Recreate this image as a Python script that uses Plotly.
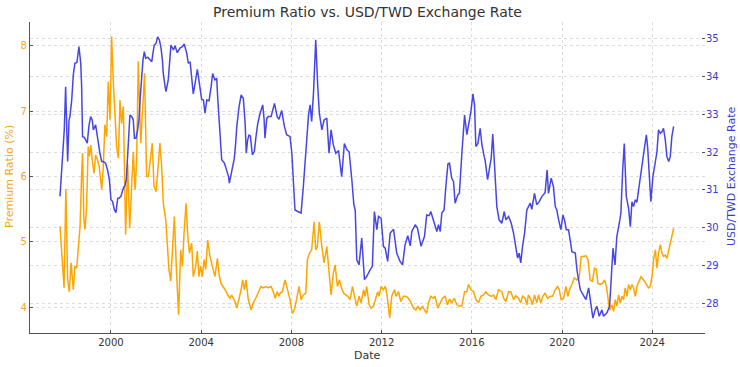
import plotly.graph_objects as go

# ---- Data (decimal years) ----
usd_twd_years = [
    1997.74, 1997.84, 1997.93, 1997.99, 1998.08, 1998.14, 1998.18, 1998.26, 1998.33, 1998.40,
    1998.49, 1998.58, 1998.66, 1998.70, 1998.74, 1998.82, 1998.88, 1998.95, 1999.02, 1999.10,
    1999.17, 1999.22, 1999.32, 1999.41, 1999.51, 1999.59, 1999.66, 1999.76, 1999.85, 1999.93,
    2000.00, 2000.07, 2000.15, 2000.22, 2000.30, 2000.36, 2000.44, 2000.55, 2000.62, 2000.68,
    2000.74, 2000.80, 2000.84, 2000.92, 2000.99, 2001.04, 2001.11, 2001.18, 2001.24, 2001.30,
    2001.36, 2001.42, 2001.48, 2001.54, 2001.63, 2001.73, 2001.81, 2001.86, 2001.92, 2002.00,
    2002.07, 2002.15, 2002.22, 2002.28, 2002.32, 2002.40, 2002.44, 2002.54, 2002.66, 2002.77,
    2002.84, 2002.94, 2003.06, 2003.17, 2003.25, 2003.36, 2003.43, 2003.51, 2003.58, 2003.65,
    2003.73, 2003.83, 2003.92, 2004.02, 2004.10, 2004.17, 2004.25, 2004.35, 2004.44, 2004.51,
    2004.61, 2004.69, 2004.73, 2004.79, 2004.85, 2004.91, 2005.03, 2005.13, 2005.21, 2005.25,
    2005.35, 2005.47, 2005.53, 2005.58, 2005.68, 2005.77, 2005.87, 2005.95, 2006.00, 2006.06,
    2006.12, 2006.18, 2006.27, 2006.36, 2006.43, 2006.51, 2006.61, 2006.73, 2006.79, 2006.83,
    2006.91, 2006.98, 2007.10, 2007.17, 2007.25, 2007.37, 2007.45, 2007.57, 2007.69, 2007.79,
    2007.94, 2008.02, 2008.09, 2008.16, 2008.28, 2008.43, 2008.53, 2008.64, 2008.76, 2008.83,
    2008.90, 2008.98, 2009.08, 2009.17, 2009.24, 2009.35, 2009.45, 2009.57, 2009.67, 2009.76,
    2009.86, 2009.97, 2010.09, 2010.23, 2010.35, 2010.46, 2010.56, 2010.68, 2010.77, 2010.83,
    2010.90, 2011.00, 2011.12, 2011.24, 2011.34, 2011.49, 2011.59, 2011.68, 2011.79, 2011.86,
    2011.98, 2012.08, 2012.16, 2012.27, 2012.38, 2012.53, 2012.67, 2012.82, 2012.93, 2013.04,
    2013.16, 2013.27, 2013.34, 2013.49, 2013.59, 2013.75, 2013.90, 2014.00, 2014.11, 2014.18,
    2014.30, 2014.45, 2014.52, 2014.60, 2014.67, 2014.77, 2014.85, 2014.94, 2015.01, 2015.11,
    2015.19, 2015.26, 2015.38, 2015.45, 2015.56, 2015.68, 2015.78, 2015.85, 2015.96, 2016.05,
    2016.12, 2016.18, 2016.27, 2016.37, 2016.45, 2016.55, 2016.59, 2016.70, 2016.81, 2016.86,
    2016.93, 2017.01, 2017.11, 2017.21, 2017.33, 2017.44, 2017.51, 2017.63, 2017.75, 2017.85,
    2017.95, 2018.03, 2018.10, 2018.17, 2018.25, 2018.34, 2018.44, 2018.59, 2018.66, 2018.78,
    2018.88, 2018.99, 2019.11, 2019.25, 2019.34, 2019.40, 2019.52, 2019.62, 2019.70, 2019.77,
    2019.85, 2019.95, 2020.04, 2020.11, 2020.19, 2020.29, 2020.36, 2020.44, 2020.59, 2020.66,
    2020.81, 2020.95, 2021.06, 2021.18, 2021.28, 2021.37, 2021.47, 2021.55, 2021.65, 2021.77,
    2021.84, 2021.99, 2022.11, 2022.18, 2022.26, 2022.35, 2022.43, 2022.54, 2022.61, 2022.69,
    2022.76, 2022.85, 2022.95, 2023.03, 2023.10, 2023.17, 2023.25, 2023.32, 2023.44, 2023.54,
    2023.62, 2023.74, 2023.80, 2023.88, 2023.94, 2024.03, 2024.14, 2024.21, 2024.28, 2024.36,
    2024.43, 2024.50, 2024.58, 2024.65, 2024.73, 2024.80, 2024.87, 2024.95,
]
usd_twd_rate = [
    30.83, 31.80, 32.59, 33.73, 31.75, 32.85, 32.94, 33.38, 34.04, 34.35,
    34.37, 34.79, 34.35, 33.73, 32.41, 32.39, 32.32, 32.24, 32.68, 32.94,
    32.85, 32.59, 32.72, 32.32, 31.97, 31.75, 31.75, 31.71, 31.53, 31.27,
    30.74, 30.70, 30.48, 30.40, 30.78, 30.78, 30.83, 31.05, 31.12, 31.27,
    31.97, 32.59, 32.98, 32.94, 32.85, 32.37, 32.37, 32.59, 32.85, 33.47,
    34.08, 34.44, 34.66, 34.48, 34.51, 34.45, 34.39, 34.61, 34.83, 34.88,
    35.05, 34.96, 34.75, 34.44, 34.08, 33.73, 33.60, 33.91, 34.83, 34.70,
    34.81, 34.63, 34.75, 34.79, 34.86, 34.61, 34.35, 34.39, 34.00, 33.54,
    33.82, 34.19, 33.82, 33.40, 33.38, 33.03, 33.38, 33.36, 33.73, 34.08,
    33.91, 33.95, 33.47, 32.85, 32.24, 31.80, 31.71, 31.53, 31.36, 31.18,
    31.49, 31.84, 32.24, 32.68, 33.20, 33.51, 33.42, 32.76, 31.97, 32.32,
    32.45, 32.43, 31.93, 32.02, 32.41, 32.76, 33.02, 33.25, 32.87, 32.37,
    32.90, 32.94, 32.94, 33.12, 33.29, 32.94, 32.87, 33.10, 32.68, 32.46,
    32.41, 31.97, 31.00, 30.47, 30.43, 30.39, 31.09, 31.97, 32.98, 33.25,
    32.81, 33.56, 34.97, 33.73, 33.03, 32.59, 32.85, 32.90, 31.97, 32.59,
    32.19, 31.97, 32.04, 31.35, 32.23, 32.06, 32.01, 31.27, 30.61, 30.47,
    29.15, 29.02, 29.73, 28.63, 28.71, 28.89, 28.98, 30.43, 29.95, 30.30,
    30.25, 29.51, 29.46, 29.11, 29.86, 29.96, 29.33, 29.11, 29.02, 29.55,
    29.79, 29.52, 29.90, 30.08, 29.99, 29.51, 29.77, 30.34, 30.32, 30.43,
    30.17, 29.90, 30.08, 29.90, 30.39, 30.47, 31.09, 31.69, 31.71, 31.31,
    31.22, 30.65, 30.87, 30.91, 31.97, 32.98, 32.46, 32.68, 33.07, 33.54,
    33.25, 32.15, 32.23, 32.63, 32.19, 31.88, 31.79, 31.27, 31.71, 31.84,
    32.48, 31.71, 30.56, 30.21, 30.12, 30.43, 30.21, 30.30, 30.12, 29.86,
    29.51, 29.20, 29.33, 29.07, 29.51, 29.86, 30.47, 30.65, 30.49, 30.91,
    30.61, 30.69, 30.83, 30.93, 31.53, 30.91, 31.31, 31.09, 30.56, 30.47,
    30.21, 29.95, 30.34, 30.21, 29.95, 29.95, 29.68, 29.37, 29.33, 28.89,
    28.36, 28.19, 28.10, 28.41, 27.92, 27.61, 27.83, 27.92, 27.66, 27.83,
    27.66, 27.75, 27.92, 28.63, 29.46, 29.02, 29.77, 30.12, 30.39, 31.53,
    32.23, 30.83, 30.52, 30.03, 30.69, 30.56, 30.74, 30.67, 31.27, 31.62,
    31.97, 32.46, 32.10, 31.27, 30.69, 31.35, 31.80, 32.01, 32.59, 32.50,
    32.54, 32.63, 32.32, 31.88, 31.75, 31.88, 32.41, 32.68,
]

premium_years = [
    1997.74, 1997.81, 1997.92, 1998.00, 1998.08, 1998.15, 1998.23, 1998.33, 1998.40, 1998.48,
    1998.55, 1998.63, 1998.70, 1998.74, 1998.80, 1998.85, 1998.92, 1998.99, 1999.04, 1999.11,
    1999.17, 1999.25, 1999.32, 1999.41, 1999.48, 1999.59, 1999.66, 1999.73, 1999.81, 1999.88,
    1999.96, 2000.03, 2000.10, 2000.18, 2000.25, 2000.33, 2000.40, 2000.47, 2000.55, 2000.65,
    2000.74, 2000.83, 2000.92, 2000.99, 2001.07, 2001.14, 2001.21, 2001.32, 2001.49, 2001.58,
    2001.66, 2001.73, 2001.83, 2001.91, 2002.00, 2002.07, 2002.17, 2002.25, 2002.32, 2002.43,
    2002.51, 2002.57, 2002.65, 2002.72, 2002.81, 2002.91, 2003.00, 2003.09, 2003.17, 2003.24,
    2003.33, 2003.40, 2003.48, 2003.58, 2003.65, 2003.76, 2003.83, 2003.90, 2003.98, 2004.05,
    2004.13, 2004.20, 2004.29, 2004.39, 2004.50, 2004.61, 2004.72, 2004.79, 2004.87, 2004.98,
    2005.06, 2005.21, 2005.28, 2005.35, 2005.43, 2005.50, 2005.58, 2005.68, 2005.77, 2005.84,
    2005.92, 2005.99, 2006.09, 2006.21, 2006.31, 2006.42, 2006.54, 2006.65, 2006.76, 2006.86,
    2006.98, 2007.10, 2007.20, 2007.28, 2007.37, 2007.45, 2007.50, 2007.60, 2007.72, 2007.84,
    2007.94, 2008.04, 2008.13, 2008.24, 2008.34, 2008.43, 2008.53, 2008.64, 2008.71, 2008.80,
    2008.90, 2009.01, 2009.08, 2009.15, 2009.24, 2009.35, 2009.45, 2009.57, 2009.64, 2009.76,
    2009.86, 2009.94, 2010.04, 2010.13, 2010.20, 2010.31, 2010.41, 2010.50, 2010.60, 2010.71,
    2010.80, 2010.90, 2011.00, 2011.09, 2011.20, 2011.27, 2011.34, 2011.45, 2011.53, 2011.64,
    2011.74, 2011.83, 2011.89, 2011.98, 2012.08, 2012.16, 2012.23, 2012.30, 2012.36, 2012.45,
    2012.57, 2012.64, 2012.75, 2012.85, 2012.97, 2013.07, 2013.19, 2013.31, 2013.41, 2013.52,
    2013.61, 2013.71, 2013.81, 2013.90, 2014.00, 2014.08, 2014.18, 2014.30, 2014.37, 2014.49,
    2014.60, 2014.70, 2014.82, 2014.92, 2015.01, 2015.11, 2015.22, 2015.34, 2015.44, 2015.56,
    2015.68, 2015.78, 2015.85, 2015.97, 2016.08, 2016.18, 2016.30, 2016.40, 2016.52, 2016.62,
    2016.74, 2016.86, 2016.96, 2017.07, 2017.18, 2017.33, 2017.41, 2017.51, 2017.63, 2017.73,
    2017.85, 2017.95, 2018.07, 2018.17, 2018.25, 2018.37, 2018.44, 2018.51, 2018.62, 2018.69,
    2018.78, 2018.88, 2018.96, 2019.06, 2019.15, 2019.25, 2019.36, 2019.48, 2019.58, 2019.70,
    2019.80, 2019.88, 2019.96, 2020.07, 2020.17, 2020.26, 2020.36, 2020.44, 2020.54, 2020.66,
    2020.76, 2020.85, 2020.96, 2021.06, 2021.15, 2021.25, 2021.35, 2021.44, 2021.52, 2021.59,
    2021.69, 2021.80, 2021.89, 2021.98, 2022.11, 2022.21, 2022.29, 2022.36, 2022.43, 2022.51,
    2022.58, 2022.66, 2022.73, 2022.80, 2022.88, 2022.95, 2023.03, 2023.10, 2023.17, 2023.25,
    2023.32, 2023.40, 2023.50, 2023.62, 2023.74, 2023.84, 2023.91, 2023.99, 2024.06, 2024.14,
    2024.21, 2024.28, 2024.36, 2024.43, 2024.50, 2024.58, 2024.65, 2024.73, 2024.80, 2024.87,
    2024.95,
]
premium_ratio = [
    5.24, 4.93, 4.30, 5.81, 4.42, 4.24, 4.68, 4.27, 4.63, 4.60,
    4.88, 5.24, 6.05, 6.36, 5.34, 5.19, 5.54, 6.46, 6.31, 6.48,
    6.25, 6.05, 6.33, 6.25, 6.15, 5.80, 6.15, 6.79, 6.61, 7.45,
    6.87, 8.14, 7.48, 6.92, 6.46, 6.28, 7.17, 6.81, 7.07, 5.11,
    6.20, 5.21, 6.00, 6.38, 5.80, 6.25, 7.76, 6.51, 7.58, 6.00,
    6.00, 6.25, 6.51, 5.85, 5.77, 6.05, 6.51, 6.15, 5.59, 5.34,
    4.93, 4.58, 4.40, 4.93, 5.39, 4.52, 3.89, 4.88, 4.63, 5.13,
    5.59, 5.13, 4.83, 4.98, 4.47, 4.63, 4.86, 4.47, 4.63, 4.47,
    4.73, 4.58, 5.03, 4.78, 4.63, 4.47, 4.75, 4.52, 4.37, 4.32,
    4.27, 4.17, 4.14, 4.19, 4.14, 4.09, 3.99, 4.12, 4.27, 4.42,
    4.27, 4.42, 4.12, 3.96, 4.07, 4.14, 4.24, 4.32, 4.30, 4.32,
    4.30, 4.32, 4.24, 4.14, 4.24, 4.17, 4.22, 4.24, 4.42, 4.27,
    4.12, 3.91, 3.96, 4.14, 4.32, 4.12, 4.19, 4.22, 4.73, 4.83,
    4.88, 5.31, 4.88, 4.93, 5.31, 4.93, 4.68, 4.93, 4.63, 4.19,
    4.52, 4.65, 4.32, 4.42, 4.32, 4.22, 4.19, 4.17, 4.12, 4.32,
    4.17, 4.02, 4.17, 4.07, 4.27, 4.17, 4.32, 4.04, 3.99, 4.02,
    4.14, 4.24, 4.17, 4.32, 4.27, 4.32, 4.22, 4.02, 3.84, 4.17,
    4.27, 4.17, 4.24, 4.09, 4.17, 4.17, 4.14, 4.07, 3.99, 3.96,
    4.02, 3.96, 4.02, 3.96, 3.91, 4.07, 4.17, 4.14, 4.17, 3.99,
    4.07, 4.14, 4.17, 4.04, 4.13, 4.07, 4.14, 4.04, 4.02, 4.02,
    4.24, 4.24, 4.35, 4.27, 4.24, 4.12, 4.07, 4.17, 4.19, 4.24,
    4.19, 4.17, 4.19, 4.12, 4.27, 4.24, 4.14, 4.09, 4.24, 4.24,
    4.12, 4.18, 4.14, 4.07, 4.17, 4.14, 4.04, 4.19, 4.12, 4.04,
    4.19, 4.07, 4.19, 4.07, 4.17, 4.22, 4.14, 4.17, 4.17, 4.27,
    4.32, 4.27, 4.12, 4.14, 4.32, 4.17, 4.30, 4.35, 4.45, 4.42,
    4.45, 4.78, 4.78, 4.79, 4.73, 4.42, 4.40, 4.60, 4.58, 4.37,
    4.35, 4.37, 4.42, 4.30, 3.96, 4.04, 3.94, 4.12, 4.02, 4.19,
    4.07, 4.17, 4.12, 4.30, 4.17, 4.35, 4.27, 4.35, 4.30, 4.17,
    4.32, 4.40, 4.47, 4.42, 4.35, 4.30, 4.32, 4.47, 4.73, 4.88,
    4.60, 4.83, 4.96, 4.83, 4.78, 4.80, 4.75, 4.88, 4.96, 5.08,
    5.21,
]

x_ticks = [2000, 2004, 2008, 2012, 2016, 2020, 2024]
left_ticks = [4, 5, 6, 7, 8]
right_ticks = [28, 29, 30, 31, 32, 33, 34, 35]

ORANGE_LINE = "#FFA500"
ORANGE_TEXT = "#F5A623"
BLUE_LINE = "#4646E6"
BLUE_TEXT = "#3A3AD0"
GRID = "#DCDCDC"
SPINE = "#555555"
FONT = "DejaVu Sans"

W, H = 740, 367
ML, MR, MT, MB = 30, 35, 22, 34

fig = go.Figure()
fig.add_trace(go.Scatter(
    x=premium_years, y=premium_ratio, mode="lines", name="Premium Ratio (%)",
    line=dict(color=ORANGE_LINE, width=1.5), yaxis="y",
))
fig.add_trace(go.Scatter(
    x=usd_twd_years, y=usd_twd_rate, mode="lines", name="USD/TWD Exchange Rate",
    line=dict(color=BLUE_LINE, width=1.5), yaxis="y2",
))

fig.update_layout(
    width=W, height=H,
    margin=dict(l=ML, r=MR, t=MT, b=MB, pad=0),
    paper_bgcolor="white", plot_bgcolor="white",
    showlegend=False,
    font=dict(family=FONT, size=10, color="#333333"),
    title=dict(text="Premium Ratio vs. USD/TWD Exchange Rate",
               x=0.5, xref="paper", y=1 - 12 / H, yref="container",
               xanchor="center", yanchor="middle",
               font=dict(family=FONT, size=14, color="#333333")),
    xaxis=dict(
        range=[1996.41, 2026.34], tickmode="array", tickvals=x_ticks,
        ticktext=[str(t) for t in x_ticks],
        showgrid=True, gridcolor=GRID, griddash="dot", gridwidth=1,
        zeroline=False, showline=True, linecolor=SPINE, linewidth=1.2,
        ticks="inside", ticklen=3, tickcolor=SPINE,
        tickfont=dict(family=FONT, size=10, color="#333333"),
        automargin=False,
    ),
    yaxis=dict(
        range=[3.609, 8.362], tickmode="array", tickvals=left_ticks,
        showgrid=True, gridcolor=GRID, griddash="dot", gridwidth=1,
        zeroline=False, showline=True, linecolor=SPINE, linewidth=1.2,
        ticks="inside", ticklen=3, tickcolor=SPINE,
        tickfont=dict(family=FONT, size=10, color=ORANGE_TEXT),
        automargin=False,
    ),
    yaxis2=dict(
        range=[27.218, 35.441], tickmode="array", tickvals=right_ticks,
        overlaying="y", side="right",
        showgrid=True, gridcolor=GRID, griddash="dot", gridwidth=1,
        zeroline=False, showline=False,
        ticks="inside", ticklen=3, tickcolor=SPINE,
        tickfont=dict(family=FONT, size=10, color=BLUE_TEXT),
        automargin=False,
    ),
)

plot_w = W - ML - MR
plot_h = H - MT - MB


def px_to_paper_x(px):
    return (px - ML) / plot_w


def px_to_paper_y(py):
    return (H - MB - py) / plot_h


fig.add_annotation(text="Date", x=px_to_paper_x(367.5), y=px_to_paper_y(355),
                   xref="paper", yref="paper", showarrow=False,
                   xanchor="center", yanchor="middle",
                   font=dict(family=FONT, size=11, color="#333333"))
fig.add_annotation(text="Premium Ratio (%)", x=px_to_paper_x(9), y=px_to_paper_y(177),
                   xref="paper", yref="paper", showarrow=False, textangle=-90,
                   xanchor="center", yanchor="middle",
                   font=dict(family=FONT, size=11, color=ORANGE_TEXT))
fig.add_annotation(text="USD/TWD Exchange Rate", x=px_to_paper_x(731), y=px_to_paper_y(177),
                   xref="paper", yref="paper", showarrow=False, textangle=-90,
                   xanchor="center", yanchor="middle",
                   font=dict(family=FONT, size=11, color=BLUE_TEXT))

# remove the browser's default 8px page margin so the figure sits at the window origin
fig.write_html("out.html",
               config={"displayModeBar": False},
               post_script="document.body.style.margin='0px';")
